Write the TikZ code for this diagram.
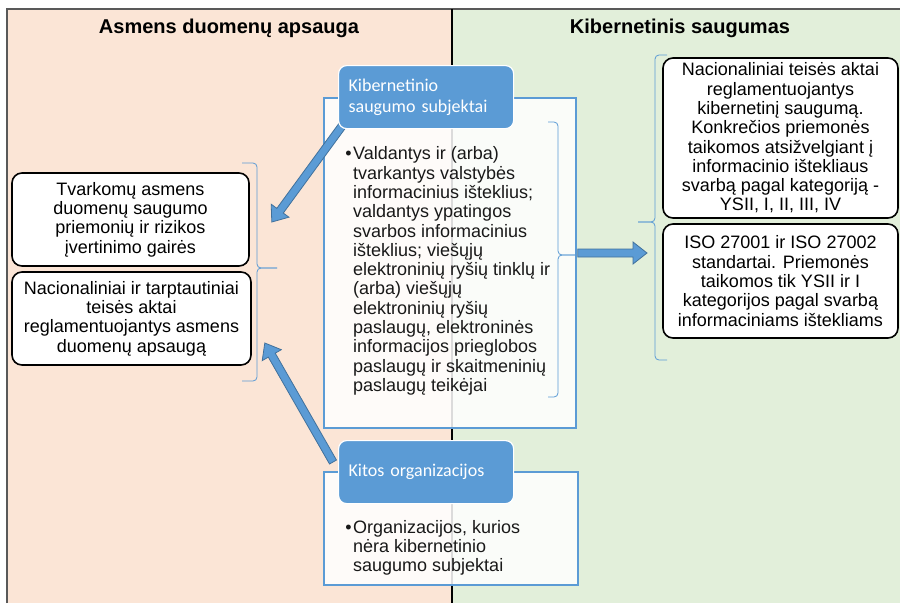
\documentclass[tikz,border=0pt]{standalone}
\usepackage{fontspec}
\setmainfont{Liberation Sans}
\newfontfamily\tagfamily{Carlito}
\usetikzlibrary{calc}

\definecolor{peach}{HTML}{FBE5D6}
\definecolor{sage}{HTML}{E2EFDA}
\definecolor{accent}{HTML}{5B9BD5}
\definecolor{accentdark}{HTML}{41719C}
\definecolor{framegray}{HTML}{595959}

\newcommand\diagbody{\fontsize{18}{19.3}\selectfont}
\newcommand\diagtag{\tagfamily\fontsize{18}{21}\selectfont}

% block arrow from #1 (tail) to #2 (tip)
\newcommand\blockarrow[2]{%
  \path coordinate (hb) at ($(#2)!14pt!(#1)$);
  \filldraw[arrowbody]
    ($(#1)!4pt!90:(#2)$) -- ($(hb)!4pt!90:(#2)$) -- ($(hb)!11pt!90:(#2)$)
    -- (#2)
    -- ($(hb)!11pt!-90:(#2)$) -- ($(hb)!4pt!-90:(#2)$) -- ($(#1)!4pt!-90:(#2)$)
    -- cycle;}

\begin{document}
\begin{tikzpicture}[x=1pt,y=-1pt,
  header/.style={font=\bfseries\fontsize{20}{24}\selectfont, inner sep=0pt},
  blackbox/.style={draw=black, line width=1.6pt, rounded corners=10pt, fill=white,
    align=center, inner sep=0pt, font=\diagbody},
  panel/.style={draw=accent, line width=1.5pt, fill=white, fill opacity=0.86,
    text opacity=1, inner sep=0pt},
  listtext/.style={align=left, inner sep=0pt, font=\diagbody, text=black!90},
  tag/.style={fill=accent, draw=white, line width=1.2pt, rounded corners=8pt,
    text=white, font=\diagtag, align=left, anchor=north west,
    inner xsep=10pt, inner ysep=0pt, text width=155pt,
    minimum width=175pt, minimum height=63pt},
  bracket/.style={draw=accent, line width=0.8pt, rounded corners=4pt},
  arrowbody/.style={fill=accent, draw=accentdark, line width=0.8pt},
]
\useasboundingbox (0,0) rectangle (900,603);

% two halves of the comparison
\fill[peach] (7,9) rectangle (452,603);
\fill[sage] (452,9) rectangle (900,603);
\draw[framegray, line width=1.5pt] (7,603) -- (7,9) -- (900,9);
\draw[black, line width=1.2pt] (452,9) -- (452,603);

\node[header] (hleft) at (229,28) {Asmens duomenų apsauga};
\node[header] (hright) at (680,28) {Kibernetinis saugumas};

% personal data protection side
\node[blackbox, minimum width=237pt, minimum height=93pt] (guide) at (130.5,219.5)
  {Tvarkomų asmens\\duomenų saugumo\\priemonių ir rizikos\\įvertinimo gairės};
\node[blackbox, minimum width=239pt, minimum height=93pt] (lawpd) at (131.5,318.5)
  {Nacionaliniai ir tarptautiniai\\teisės aktai\\reglamentuojantys asmens\\duomenų apsaugą};
\draw[bracket] (242,163) -- (257,163) -- (257,268) -- (277,268);
\draw[bracket] (277,268) -- (257,268) -- (257,381) -- (242,381);

% cyber security side
\node[blackbox, minimum width=235pt, minimum height=160pt] (lawcs) at (780.5,138)
  {Nacionaliniai teisės aktai\\reglamentuojantys\\kibernetinį saugumą.\\Konkrečios priemonės\\taikomos atsižvelgiant į\\informacinio ištekliaus\\svarbą pagal kategoriją -\\YSII, I, II, III, IV};
\node[blackbox, minimum width=235pt, minimum height=114pt] (iso) at (780.5,281)
  {ISO 27001 ir ISO 27002\\standartai. Priemonės\\taikomos tik YSII ir I\\kategorijos pagal svarbą\\informaciniams ištekliams};
\draw[bracket] (667,55) -- (655,55) -- (655,222) -- (638,222);
\draw[bracket] (638,222) -- (655,222) -- (655,360) -- (667,360);

% subject panels in the middle
\node[panel, minimum width=252pt, minimum height=330pt] (subjbox) at (450,263) {};
\node[panel, minimum width=254pt, minimum height=113pt] (otherbox) at (451,528.5) {};

\node[listtext, anchor=west] (subjlist) at (353,271)
  {\llap{\textbullet\hspace{1.5pt}}Valdantys ir (arba)\\tvarkantys valstybės\\informacinius išteklius;\\valdantys ypatingos\\svarbos informacinius\\išteklius; viešųjų\\elektroninių ryšių tinklų ir\\(arba) viešųjų\\elektroninių ryšių\\paslaugų, elektroninės\\informacijos prieglobos\\paslaugų ir skaitmeninių\\paslaugų teikėjai};
\node[listtext, anchor=west] (otherlist) at (353,548)
  {\llap{\textbullet\hspace{1.5pt}}Organizacijos, kurios\\nėra kibernetinio\\saugumo subjektai};
\draw[bracket] (548,122) -- (558,122) -- (558,255) -- (575,255);
\draw[bracket] (575,255) -- (558,255) -- (558,397) -- (548,397);

% links between the panels and the requirements
\coordinate (a1tail) at (342,126);
\coordinate (a1tip) at ($(guide.east)+(22,2.5)$);
\coordinate (a2tail) at (333,462);
\coordinate (a2tip) at ($(lawpd.east)+(13,24.5)$);
\coordinate (a3tail) at ($(subjbox.east)+(1,-10)$);
\coordinate (a3tip) at (647,253);
\blockarrow{a1tail}{a1tip}
\blockarrow{a2tail}{a2tip}
\blockarrow{a3tail}{a3tip}

\node[tag] (subj) at (338,65) {Kibernetinio\\saugumo subjektai};
\node[tag] (other) at (338,440) {Kitos organizacijos};
\end{tikzpicture}
\end{document}
